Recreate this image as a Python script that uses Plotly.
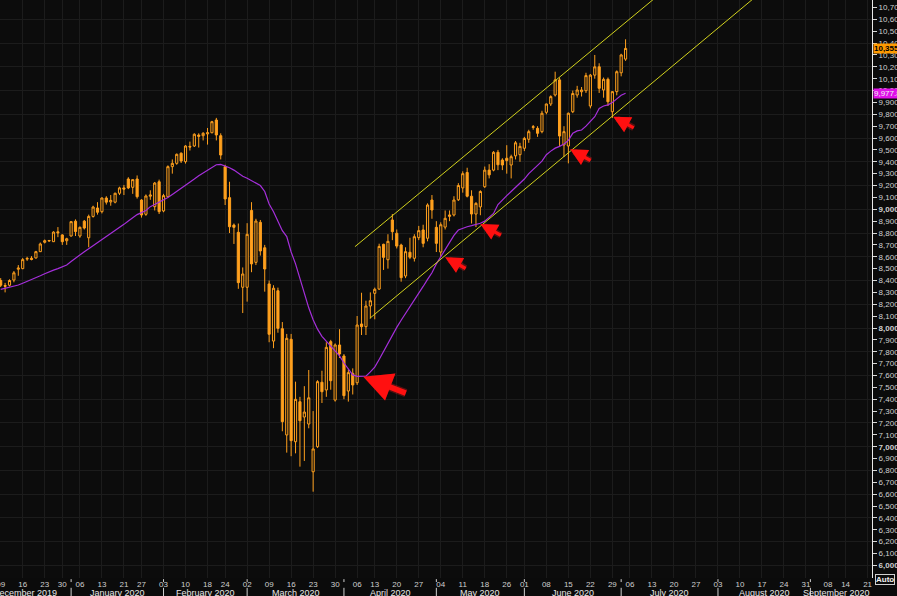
import pandas as pd
import plotly.graph_objects as go

# ---------------- data ----------------
holidays = ["2019-12-25", "2020-01-01", "2020-01-20", "2020-02-17", "2020-04-10",
            "2020-05-25", "2020-07-03", "2020-09-07"]
first_date = "2019-12-09"

opens = [8400, 8358, 8360, 8404, 8495, 8500, 8580, 8588, 8590, 8643, 8722, 8733, 8727, 8810, 8784, 8735,
         8775, 8900, 8775, 8900, 8760, 8940, 9011, 8980, 9095, 9062, 9060, 9135, 9180, 9255, 9185, 9255,
         9078, 8958, 9110, 9022, 9232, 8986, 9106, 9359, 9387, 9472, 9401, 9530, 9533, 9625, 9620, 9635,
         9645, 9752, 9620, 9359, 9098, 8867, 8806, 8343, 8343, 8990, 8553, 8890, 8676, 8371, 7890, 8314,
         7994, 7099, 7905, 7042, 7379, 7250, 7191, 6789, 7000, 7543, 7478, 7885, 7393, 7857, 7764, 7469,
         7618, 7539, 8034, 8011, 8185, 8292, 8328, 8705, 8575, 8910, 8798, 8699, 8438, 8638, 8587, 8761,
         8826, 8756, 9078, 8848, 8640, 8850, 8940, 8952, 9080, 9180, 9310, 9110, 8960, 9020, 9190, 9330,
         9330, 9480, 9415, 9430, 9373, 9450, 9460, 9514, 9590, 9690, 9682, 9654, 9817, 9887, 9963, 10090,
         9542, 9533, 9822, 9963, 9990, 9999, 9870, 10130, 10200, 10005, 10095, 9822, 9991, 10150, 10265]
highs = [8420, 8380, 8410, 8480, 8530, 8590, 8600, 8605, 8650, 8720, 8745, 8742, 8815, 8850, 8790, 8760,
         8900, 8915, 8855, 8910, 8955, 9030, 9060, 9100, 9110, 9120, 9140, 9190, 9205, 9270, 9250, 9285,
         9085, 9125, 9160, 9230, 9250, 9130, 9370, 9420, 9470, 9480, 9540, 9570, 9640, 9640, 9650, 9685,
         9745, 9770, 9640, 9375, 9232, 8880, 8880, 8510, 8883, 9060, 8920, 8910, 8700, 8400, 8360, 8340,
         8050, 7950, 7950, 7548, 7420, 7510, 7646, 7300, 7560, 7640, 7880, 7900, 7870, 7990, 7780, 7650,
         7660, 8101, 8297, 8230, 8300, 8340, 8710, 8710, 8790, 8960, 8830, 8710, 8680, 8760, 8790, 8860,
         8870, 9050, 9120, 8900, 8890, 8990, 8990, 9110, 9220, 9320, 9350, 9160, 9060, 9160, 9360, 9380,
         9490, 9500, 9430, 9540, 9460, 9575, 9560, 9610, 9670, 9710, 9700, 9830, 9890, 9960, 10159, 10110,
         9700, 9815, 10000, 10040, 10030, 10150, 10140, 10300, 10230, 10110, 10110, 9995, 10170, 10310, 10432]
lows = [8345, 8300, 8350, 8385, 8440, 8495, 8565, 8570, 8585, 8640, 8712, 8725, 8725, 8765, 8700, 8700,
        8770, 8775, 8760, 8830, 8680, 8930, 8955, 8965, 9040, 9030, 9050, 9120, 9120, 9170, 9130, 9090,
        8930, 8945, 9080, 8990, 8960, 8975, 9100, 9300, 9375, 9390, 9385, 9495, 9525, 9520, 9580, 9545,
        9640, 9580, 9420, 9036, 8800, 8708, 8330, 8126, 8222, 8470, 8530, 8610, 8306, 7880, 7830, 7960,
        7130, 6950, 6920, 6944, 6832, 6880, 7155, 6621, 6990, 7368, 7420, 7480, 7380, 7747, 7400, 7380,
        7440, 7520, 7941, 7941, 8080, 8073, 8320, 8489, 8500, 8740, 8670, 8390, 8420, 8580, 8560, 8740,
        8680, 8730, 8920, 8640, 8600, 8830, 8900, 8940, 9070, 9140, 9100, 8880, 8850, 8950, 9180, 9260,
        9320, 9330, 9330, 9300, 9260, 9420, 9400, 9490, 9560, 9670, 9610, 9640, 9800, 9870, 9950, 9530,
        9440, 9387, 9810, 9940, 9950, 9980, 9850, 10100, 9980, 9940, 9870, 9770, 9960, 10120, 10250]
closes = [8360, 8352, 8400, 8465, 8505, 8576, 8586, 8578, 8643, 8708, 8735, 8737, 8808, 8802, 8727, 8752,
          8896, 8812, 8848, 8842, 8940, 9019, 8975, 9095, 9060, 9075, 9135, 9180, 9170, 9180, 9250, 9106,
          8952, 9112, 9120, 9221, 8980, 9115, 9359, 9387, 9463, 9407, 9533, 9525, 9632, 9615, 9640, 9645,
          9738, 9626, 9457, 9087, 8853, 8848, 8382, 8455, 8789, 8540, 8901, 8649, 8497, 7947, 8335, 7997,
          7211, 7913, 7051, 7399, 7219, 7292, 7412, 6981, 7548, 7463, 7837, 7556, 7857, 7781, 7430, 7624,
          7520, 8025, 8011, 8185, 8230, 8326, 8687, 8595, 8730, 8811, 8690, 8424, 8643, 8596, 8769, 8820,
          8713, 9036, 8994, 8713, 8870, 8924, 8952, 9078, 9200, 9300, 9110, 8960, 9050, 9150, 9330, 9290,
          9480, 9375, 9373, 9410, 9443, 9560, 9530, 9597, 9654, 9695, 9640, 9809, 9887, 9949, 10090, 9617,
          9654, 9809, 9975, 10005, 10005, 10126, 10130, 10200, 10019, 10095, 9906, 9991, 10159, 10300, 10355]
moving_avg = [8325, 8333, 8340, 8348, 8362, 8377, 8392, 8404, 8420, 8440, 8457, 8474, 8487, 8500, 8515, 8531,
              8560, 8590, 8620, 8643, 8668, 8693, 8718, 8744, 8770, 8795, 8820, 8845, 8873, 8902, 8930, 8955,
              8972, 8990, 9022, 9040, 9058, 9080, 9100, 9125, 9150, 9180, 9205, 9230, 9255, 9283, 9305, 9328,
              9355, 9375, 9378, 9365, 9350, 9330, 9300, 9278, 9262, 9240, 9222, 9200, 9150, 9045, 8980, 8900,
              8820, 8770, 8640, 8540, 8410, 8280, 8170, 8070, 7990, 7930, 7890, 7850, 7810, 7765, 7705, 7650,
              7605, 7592, 7590, 7594, 7630, 7670, 7735, 7805, 7870, 7940, 8005, 8065, 8120, 8180, 8240, 8295,
              8350, 8410, 8465, 8540, 8600, 8660, 8720, 8780, 8825, 8840, 8853, 8862, 8872, 8882, 8900, 8935,
              8965, 9040, 9080, 9115, 9150, 9185, 9215, 9255, 9300, 9332, 9370, 9405, 9460, 9490, 9515, 9530,
              9550, 9580, 9640, 9660, 9668, 9700, 9740, 9780, 9850, 9870, 9880, 9900, 9930, 9960, 9978]

# channel trend lines (trading-day index from first_date, value)
upper_channel_idx = [80.5, 150.0]
upper_channel_val = [8685, 10820]
lower_channel_idx = [83.9, 175.0]
lower_channel_val = [8082, 10897]

# red arrows: tip (trading-day index, value)
arrow_idx = [82.4, 101.0, 109.0, 129.4, 139.2]
arrow_val = [7590, 8596, 8876, 9505, 9780]
arrow_big = [True, False, False, False, False]

last_price_label = "10,355"
ma_label = "9,977.8"

y_min, y_max = 5894, 10763

# ---------------- calendar ----------------
cal = [d for d in pd.bdate_range("2019-12-02", "2020-10-02") if d.strftime("%Y-%m-%d") not in holidays]
k0 = cal.index(pd.Timestamp(first_date))
pos = {d: k - k0 for k, d in enumerate(cal)}
n = len(closes)
xs = list(range(n))
x_min, x_max = -0.16, 198.0

tickvals, ticktext = [], []
prev = None
for d in cal:
    wk = d.isocalendar()[:2]
    if wk != prev and x_min - 1 <= pos[d] <= x_max + 1:
        tickvals.append(pos[d])
        ticktext.append(f"{d.day:02d}")
    prev = wk

month_starts = []
prev_m = None
for d in cal:
    if d.month != prev_m:
        month_starts.append(d)
    prev_m = d.month

# ---------------- figure ----------------
orange = "#FFA01E"
fig = go.Figure()
fig.add_trace(go.Candlestick(
    x=xs, open=opens, high=highs, low=lows, close=closes,
    increasing=dict(line=dict(color=orange, width=1), fillcolor="#0c0c0c"),
    decreasing=dict(line=dict(color=orange, width=1), fillcolor=orange),
    whiskerwidth=0, hoverinfo="skip", yaxis="y"))
fig.add_trace(go.Scatter(x=xs, y=moving_avg, mode="lines",
                         line=dict(color="#A52FDB", width=1.2), yaxis="y2", hoverinfo="skip"))
for cx, cy in ((upper_channel_idx, upper_channel_val), (lower_channel_idx, lower_channel_val)):
    fig.add_trace(go.Scatter(x=cx, y=cy, mode="lines",
                             line=dict(color="#D2D21E", width=1), yaxis="y2", hoverinfo="skip"))

# arrows (glow + solid); glow head kept the same size as the solid head
for ix, v, big in zip(arrow_idx, arrow_val, arrow_big):
    ax, ay = (44, 17) if big else (22, 12)
    w = 5.5 if big else 3.4
    s = 1.05 if big else 1.0
    for col, ww in (("rgba(255,30,30,0.30)", w + 3), ("#FF1010", w)):
        fig.add_annotation(x=ix, y=v, xref="x", yref="y", ax=ax, ay=ay, axref="pixel", ayref="pixel",
                           showarrow=True, arrowhead=2, arrowsize=s * w / ww,
                           arrowwidth=ww, arrowcolor=col, standoff=0, text="")

# y ticks
yvals = list(range(6000, 10800, 100))
ytext = [f"<b>{v:,}</b>" if v % 1000 == 0 else f"{v:,}" for v in yvals]

# month labels and separators
shapes = []
for j, d in enumerate(month_starts[:-1]):
    s0 = pos[d]
    e0 = pos[month_starts[j + 1]]
    if e0 < x_min or s0 > x_max:
        continue
    if x_min <= s0 <= x_max:
        shapes.append(dict(type="line", xref="x", yref="paper", x0=s0, x1=s0, y0=-0.002, y1=-0.007,
                           line=dict(color="#d0d0d0", width=1)))
        shapes.append(dict(type="line", xref="x", yref="paper", x0=s0, x1=s0, y0=-0.017, y1=-0.04,
                           line=dict(color="#d0d0d0", width=1)))
    c = (s0 + e0) / 2
    if e0 > x_max:
        fig.add_annotation(x=x_max, y=-0.0265, xref="x", yref="paper", text=d.strftime("%B %Y"),
                           showarrow=False, xanchor="right", yanchor="middle",
                           font=dict(size=9, color="#e6e6e6", family="Liberation Sans"))
    else:
        fig.add_annotation(x=c, y=-0.0265, xref="x", yref="paper", text=d.strftime("%B %Y"),
                           showarrow=False, xanchor="center", yanchor="middle",
                           font=dict(size=9, color="#e6e6e6", family="Liberation Sans"))

# price tags
fig.add_annotation(x=1, y=closes[-1], xref="paper", yref="y", text=f"<b>{last_price_label}</b>",
                   showarrow=False, xanchor="left", yanchor="middle", xshift=1,
                   bgcolor="#FF9A00", font=dict(size=8, color="#000000", family="Liberation Sans"),
                   borderpad=0)
fig.add_annotation(x=1, y=moving_avg[-1], xref="paper", yref="y", text=ma_label,
                   showarrow=False, xanchor="left", yanchor="middle", xshift=1,
                   bgcolor="#E010E8", font=dict(size=8, color="#f0f0f0", family="Liberation Sans"),
                   borderpad=0)
fig.add_annotation(x=1, y=0, xref="paper", yref="paper", text="<b>Auto</b>",
                   showarrow=False, xanchor="left", yanchor="middle", xshift=3, yshift=-1,
                   bgcolor="#0c0c0c", bordercolor="#d0d0d0", borderwidth=1, borderpad=0,
                   font=dict(size=8, color="#f0f0f0", family="Liberation Sans"))

fig.update_layout(
    width=897, height=596, margin=dict(l=0, r=25, t=0, b=18, pad=0),
    paper_bgcolor="#0b0b0b", plot_bgcolor="#0c0c0c", showlegend=False,
    font=dict(family="Liberation Sans", size=8, color="#cccccc"),
    shapes=shapes,
    xaxis=dict(range=[x_min, x_max], tickmode="array", tickvals=tickvals, ticktext=ticktext,
               showgrid=True, gridcolor="#1c1c1c", gridwidth=1, ticks="", zeroline=False,
               showline=False, rangeslider=dict(visible=False), fixedrange=True, automargin=False,
               ticklabeloverflow="allow",
               tickfont=dict(size=8, color="#cfcfcf")),
    yaxis=dict(side="right", range=[y_min, y_max], tickmode="array", tickvals=yvals, ticktext=ytext,
               showgrid=False, ticks="outside", ticklen=4, tickcolor="#d8d8d8", showline=True,
               linecolor="#e8e8e8", linewidth=1, zeroline=False, fixedrange=True, automargin=False,
               tickfont=dict(size=8, color="#cfcfcf")),
    yaxis2=dict(overlaying="y", side="right", range=[y_min, y_max], showgrid=True, gridcolor="#1c1c1c",
                tick0=0, dtick=200, showticklabels=False, ticks="", showline=False, zeroline=False,
                fixedrange=True, automargin=False),
)

fig.write_html("out.html", config={"displayModeBar": False},
               post_script="document.body.style.margin='0';document.body.style.background='#0b0b0b';")
